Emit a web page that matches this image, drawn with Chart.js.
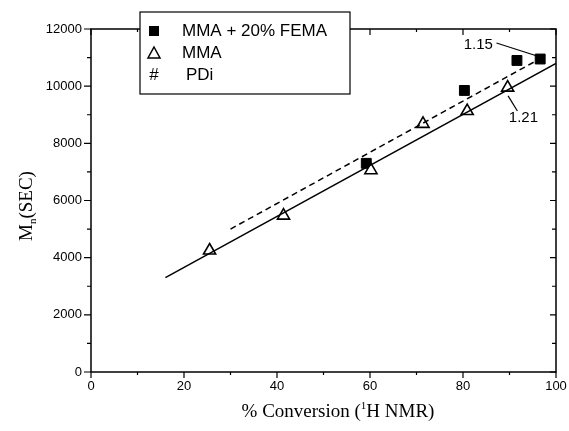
<!DOCTYPE html>
<html>
<head>
<meta charset="utf-8">
<script src="https://cdn.jsdelivr.net/npm/chart.js@4.4.0/dist/chart.umd.min.js"></script>
<style>
  html, body { margin: 0; padding: 0; background: #fff; }
  #wrap { width: 569px; height: 431px; }
</style>
</head>
<body>
<div id="wrap"><canvas id="chart" width="569" height="431"></canvas></div>
<script>
// values
const femaX = [59.2, 80.3, 91.6, 96.6];
const femaY = [7300, 9850, 10900, 10950];
const mmaX = [25.5, 41.4, 60.2, 71.4, 80.9, 89.6];
const mmaY = [4250, 5470, 7060, 8680, 9130, 9950];
const fitMmaX = [16, 100];
const fitMmaY = [3300, 10800];
const fitFemaX = [30, 97];
const fitFemaY = [5000, 11000];
const xTicks = [0, 20, 40, 60, 80, 100];
const yTicks = [0, 2000, 4000, 6000, 8000, 10000, 12000];
const legendLabels = ['MMA + 20% FEMA', 'MMA', 'PDi'];
const pdiLabels = ['1.15', '1.21'];

const SANS = "'Liberation Sans', Arial, sans-serif";
const SERIF = "'Liberation Serif', 'Times New Roman', serif";

function pts(xs, ys) {
    return xs.map((x, i) => ({ x: x, y: ys[i] }));
}

// PDi labels: text anchor and leader line, in data units
const pdiNotes = [
    { text: pdiLabels[0], at: [83.3, 11440], from: [87.2, 11510], to: [96.6, 11020] },
    { text: pdiLabels[1], at: [93.0, 8890], from: [89.7, 9660], to: [91.7, 9130] }
];

// frame round the plot, with ticks on all four sides
const framePlugin = {
    id: 'frame',
    afterDatasetsDraw(chart) {
        const { ctx, chartArea: a, scales: { x, y } } = chart;
        ctx.save();
        ctx.strokeStyle = '#000';
        ctx.lineWidth = 1.5;
        ctx.strokeRect(a.left, a.top, a.right - a.left, a.bottom - a.top);
        ctx.lineWidth = 1.2;
        ctx.beginPath();
        for (let v = 0; v <= 100; v += 10) {
            const px = x.getPixelForValue(v);
            const major = v % 20 === 0;
            ctx.moveTo(px, a.bottom);
            ctx.lineTo(px, a.bottom + (major ? 6 : 3));
            ctx.moveTo(px, a.top);
            ctx.lineTo(px, a.top + (major ? 6 : 3));
        }
        for (let v = 0; v <= 12000; v += 1000) {
            const py = y.getPixelForValue(v);
            const major = v % 2000 === 0;
            ctx.moveTo(a.left, py);
            ctx.lineTo(a.left - (major ? 7 : 4), py);
            ctx.moveTo(a.right, py);
            ctx.lineTo(a.right - (major ? 6 : 4), py);
        }
        ctx.stroke();

        // PDi notes
        ctx.lineWidth = 1.2;
        ctx.fillStyle = '#000';
        ctx.font = '15px ' + SANS;
        ctx.textAlign = 'center';
        ctx.textBaseline = 'middle';
        pdiNotes.forEach(n => {
            ctx.beginPath();
            ctx.moveTo(x.getPixelForValue(n.from[0]), y.getPixelForValue(n.from[1]));
            ctx.lineTo(x.getPixelForValue(n.to[0]), y.getPixelForValue(n.to[1]));
            ctx.stroke();
            ctx.fillText(n.text, x.getPixelForValue(n.at[0]), y.getPixelForValue(n.at[1]));
        });
        ctx.restore();
    },
    afterDraw(chart) {
        const { ctx } = chart;
        ctx.save();
        // legend box
        ctx.fillStyle = '#fff';
        ctx.fillRect(140, 12, 210, 82);
        ctx.strokeStyle = '#000';
        ctx.lineWidth = 1.2;
        ctx.strokeRect(140, 12, 210, 82);
        ctx.fillStyle = '#000';
        ctx.fillRect(149, 26, 10, 10);
        ctx.lineWidth = 1.5;
        ctx.beginPath();
        ctx.moveTo(154, 47);
        ctx.lineTo(160, 58);
        ctx.lineTo(148, 58);
        ctx.closePath();
        ctx.stroke();
        ctx.font = '17px ' + SANS;
        ctx.textBaseline = 'middle';
        ctx.textAlign = 'center';
        ctx.fillText('#', 154, 75);
        ctx.textAlign = 'left';
        ctx.fillText(legendLabels[0], 182, 31);
        ctx.fillText(legendLabels[1], 182, 53);
        ctx.fillText(legendLabels[2], 186, 75);

        // y title: M_n (SEC)
        ctx.translate(25, 206);
        ctx.rotate(-Math.PI / 2);
        ctx.font = '19px ' + SERIF;
        const wM = ctx.measureText('M').width;
        const wS = ctx.measureText('(SEC)').width;
        ctx.font = '11px ' + SERIF;
        const wn = ctx.measureText('n').width;
        let sx = -(wM + wn + wS) / 2;
        ctx.textAlign = 'left';
        ctx.textBaseline = 'alphabetic';
        ctx.font = '19px ' + SERIF;
        ctx.fillText('M', sx, 7);
        ctx.font = '11px ' + SERIF;
        ctx.fillText('n', sx + wM, 11);
        ctx.font = '19px ' + SERIF;
        ctx.fillText('(SEC)', sx + wM + wn, 7);
        ctx.setTransform(1, 0, 0, 1, 0, 0);

        // x title: % Conversion (1H NMR)
        ctx.font = '19px ' + SERIF;
        const a1 = '% Conversion (', a2 = 'H NMR)';
        const w1 = ctx.measureText(a1).width, w2 = ctx.measureText(a2).width;
        ctx.font = '11px ' + SERIF;
        const w3 = ctx.measureText('1').width;
        let tx = 338 - (w1 + w2 + w3) / 2;
        ctx.font = '19px ' + SERIF;
        ctx.fillText(a1, tx, 417);
        ctx.font = '11px ' + SERIF;
        ctx.fillText('1', tx + w1, 409);
        ctx.font = '19px ' + SERIF;
        ctx.fillText(a2, tx + w1 + w3, 417);
        ctx.restore();
    }
};

new Chart(document.getElementById('chart'), {
    type: 'scatter',
    data: {
        datasets: [
            {
                label: 'MMA fit',
                data: pts(fitMmaX, fitMmaY),
                showLine: true,
                borderColor: '#000',
                borderWidth: 1.5,
                pointRadius: 0
            },
            {
                label: 'MMA + 20% FEMA fit',
                data: pts(fitFemaX, fitFemaY),
                showLine: true,
                borderColor: '#000',
                borderWidth: 1.5,
                borderDash: [6, 4],
                pointRadius: 0
            },
            {
                label: legendLabels[1],
                data: pts(mmaX, mmaY),
                pointStyle: 'triangle',
                pointRadius: 7,
                backgroundColor: '#fff',
                borderColor: '#000',
                borderWidth: 1.6
            },
            {
                label: legendLabels[0],
                data: pts(femaX, femaY),
                pointStyle: 'rect',
                pointRadius: 7,
                backgroundColor: '#000',
                borderColor: '#000',
                borderWidth: 1
            }
        ]
    },
    options: {
        responsive: false,
        animation: false,
        layout: { padding: { top: 29, right: 13, left: 0, bottom: 0 } },
        plugins: {
            legend: { display: false },
            tooltip: { enabled: false }
        },
        scales: {
            x: {
                type: 'linear',
                min: 0,
                max: 100,
                afterBuildTicks: s => { s.ticks = xTicks.map(v => ({ value: v })); },
                afterFit: s => { s.height = 59; s.paddingLeft = 0; s.paddingRight = 0; },
                grid: { display: false, drawTicks: false },
                border: { display: false },
                ticks: {
                    color: '#000',
                    font: { family: SANS, size: 13 },
                    padding: 7,
                    autoSkip: false,
                    maxRotation: 0,
                    callback: v => String(v)
                }
            },
            y: {
                type: 'linear',
                min: 0,
                max: 12000,
                afterBuildTicks: s => { s.ticks = yTicks.map(v => ({ value: v })); },
                afterFit: s => { s.width = 91; s.paddingTop = 0; s.paddingBottom = 0; },
                grid: { display: false, drawTicks: false },
                border: { display: false },
                ticks: {
                    color: '#000',
                    font: { family: SANS, size: 13 },
                    padding: 9,
                    autoSkip: false,
                    callback: v => String(v)
                }
            }
        }
    },
    plugins: [framePlugin]
});
</script>
</body>
</html>
